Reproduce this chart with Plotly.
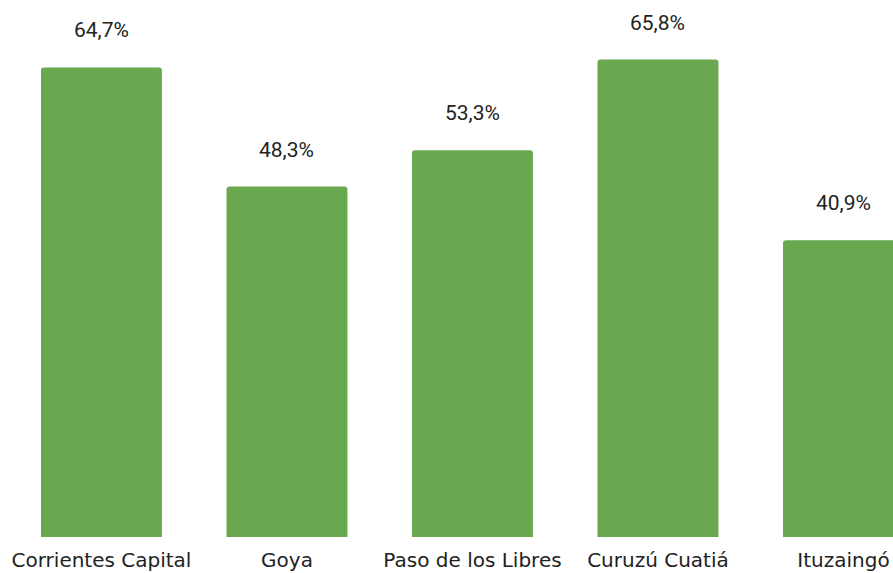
import plotly.graph_objects as go

categories = ["Corrientes Capital", "Goya", "Paso de los Libres", "Curuzú Cuatiá", "Ituzaingó"]
values = [64.7, 48.3, 53.3, 65.8, 40.9]
value_labels = ["64,7%", "48,3%", "53,3%", "65,8%", "40,9%"]

fig = go.Figure()
fig.add_trace(go.Bar(
    x=list(range(len(categories))),
    y=values,
    width=0.652,
    marker=dict(color="#6aa84f", line=dict(width=0)),
    hoverinfo="skip",
))

for i, (v, lab) in enumerate(zip(values, value_labels)):
    fig.add_annotation(
        x=i, y=v, text=lab, showarrow=False,
        xanchor="center", yanchor="bottom", yshift=23,
        font=dict(family="Roboto", size=21, color="#222222"),
    )

fig.update_layout(
    width=893, height=573,
    margin=dict(l=0, r=0, t=0, b=36, autoexpand=False),
    paper_bgcolor="white", plot_bgcolor="white",
    showlegend=False,
    barcornerradius=3,
    xaxis=dict(
        range=[-0.547, 4.267],
        tickmode="array",
        tickvals=list(range(len(categories))),
        ticktext=categories,
        showgrid=False, zeroline=False, showline=False,
        ticks="", ticklabelstandoff=9, automargin=False,
        tickfont=dict(family="DejaVu Sans", size=20, color="#222222"),
    ),
    yaxis=dict(
        range=[0, 74.0], automargin=False,
        visible=False, showgrid=False, zeroline=False,
    ),
)

fig.write_html(
    "out.html",
    config={"displayModeBar": False},
    post_script="document.body.style.margin='0';document.body.style.overflow='hidden';",
)
